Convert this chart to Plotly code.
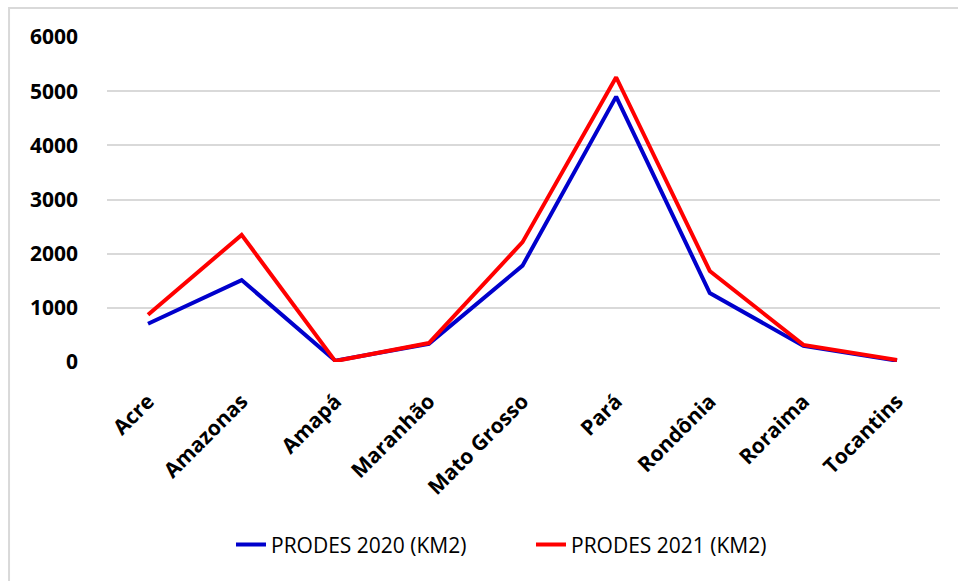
import plotly.graph_objects as go

# Desmatamento por estado (km²), PRODES
estados = ["Acre", "Amazonas", "Amapá", "Maranhão", "Mato Grosso",
           "Pará", "Rondônia", "Roraima", "Tocantins"]
prodes_2020 = [706, 1512, 24, 336, 1779, 4899, 1273, 297, 25]
prodes_2021 = [871, 2347, 17, 350, 2213, 5257, 1681, 315, 37]
y_ticks = [0, 1000, 2000, 3000, 4000, 5000, 6000]

fig = go.Figure()
fig.add_trace(go.Scatter(x=estados, y=prodes_2020, mode="lines",
                         name="PRODES 2020 (KM2)",
                         line=dict(color="#0000cc", width=4)))
fig.add_trace(go.Scatter(x=estados, y=prodes_2021, mode="lines",
                         name="PRODES 2021 (KM2)",
                         line=dict(color="#ff0000", width=4)))

fig.update_layout(
    width=958, height=581,
    margin=dict(l=107, r=18, t=37, b=219, autoexpand=False),
    paper_bgcolor="white", plot_bgcolor="white",
    font=dict(family="Open Sans", color="black"),
    showlegend=True,
    legend=dict(orientation="h", x=0.509, xanchor="center", y=-0.563,
                yanchor="middle", font=dict(size=21, color="black"),
                entrywidth=255, bgcolor="rgba(0,0,0,0)"),
    shapes=[dict(type="rect", xref="paper", yref="paper",
                 x0=-0.1176, x1=1.03, y0=-0.8, y1=1.089,
                 line=dict(color="#d9d9d9", width=2))],
)
fig.update_xaxes(tickangle=-45, automargin=False,
                 tickfont=dict(size=21, family="Open Sans", weight="bold"),
                 showgrid=False, showline=False, ticks="",
                 range=[-0.438, 8.459], ticklabelstandoff=22)
fig.update_yaxes(range=[0, 6000], tickvals=y_ticks, showgrid=True, automargin=False,
                 gridcolor="#d9d9d9", gridwidth=1.5, zeroline=False,
                 tickfont=dict(size=21, family="Open Sans", weight="bold"),
                 ticklabelstandoff=28)

fig.write_html("out.html")
